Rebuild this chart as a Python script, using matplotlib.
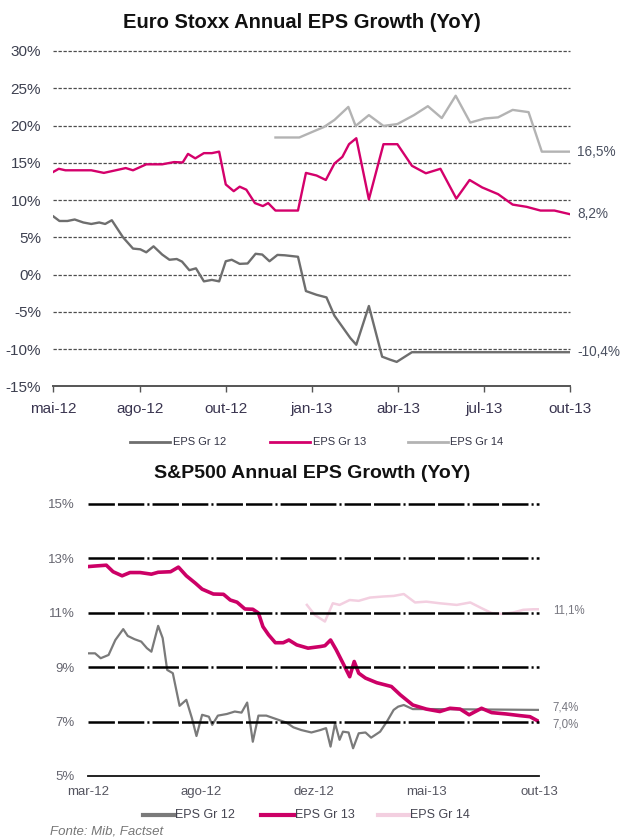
import matplotlib
matplotlib.use("Agg")
import matplotlib.pyplot as plt
from matplotlib import font_manager as fm
from matplotlib.lines import Line2D

# ---------------- data ----------------
# Euro Stoxx (x = week index from mai-12, 13 weeks per labelled tick)
es_ticks = ["mai-12", "ago-12", "out-12", "jan-13", "abr-13", "jul-13", "out-13"]
es_gr12_x = [0, 0.9, 2.1, 3.2, 4.5, 5.7, 6.9, 7.8, 8.8, 10.5, 12.0, 13.1, 14.0, 15.1, 16.4,
             17.5, 18.6, 19.4, 20.5, 21.5, 22.7, 23.9, 25.0, 26.0, 26.9, 28.1, 29.3, 30.5,
             31.5, 32.6, 33.8, 34.9, 36.9, 38.1, 39.7, 41.2, 42.4, 44.8, 45.7, 47.6, 49.6,
             50.8, 51.8, 54.1, 78]
es_gr12_y = [7.8, 7.2, 7.2, 7.4, 7.0, 6.8, 7.0, 6.8, 7.3, 5.0, 3.5, 3.4, 3.0, 3.8, 2.7,
             2.0, 2.1, 1.75, 0.6, 0.85, -0.9, -0.7, -0.9, 1.8, 2.0, 1.45, 1.5, 2.8,
             2.7, 1.8, 2.65, 2.6, 2.4, -2.2, -2.7, -3.05, -5.5, -8.5, -9.4, -4.2, -11.0,
             -11.4, -11.7, -10.4, -10.4]
es_gr13_x = [0, 0.8, 1.8, 5.7, 7.6, 9.9, 10.9, 12.0, 14.0, 16.4, 18.2, 19.5, 20.3, 21.4,
             22.7, 23.9, 25.0, 26.0, 27.2, 28.1, 29.1, 30.4, 31.6, 32.4, 33.5, 36.9, 38.1,
             39.7, 41.1, 42.4, 43.6, 44.6, 45.7, 47.6, 49.8, 51.9, 54.1, 56.2, 58.4, 60.8,
             62.8, 64.7, 67.1, 69.3, 71.4, 73.5, 75.6, 78]
es_gr13_y = [13.8, 14.2, 14.0, 14.0, 13.65, 14.1, 14.3, 14.0, 14.8, 14.8, 15.1, 15.05, 16.2,
             15.6, 16.3, 16.3, 16.5, 12.1, 11.2, 11.8, 11.4, 9.6, 9.2, 9.6, 8.6, 8.6, 13.65,
             13.3, 12.7, 14.9, 15.8, 17.5, 18.3, 10.1, 17.5, 17.5, 14.6, 13.6, 14.2, 10.2,
             12.7, 11.7, 10.8, 9.4, 9.1, 8.6, 8.6, 8.1]
es_gr14_x = [33.5, 37.1, 39.2, 40.8, 42.4, 44.5, 45.6, 47.6, 49.8, 51.9, 54.4, 56.5, 58.6,
             60.7, 62.9, 65.1, 67.1, 69.3, 71.7, 73.7, 78]
es_gr14_y = [18.4, 18.4, 19.2, 19.8, 20.75, 22.5, 19.95, 21.4, 19.95, 20.2, 21.4, 22.6, 21.0,
             24.0, 20.4, 20.95, 21.1, 22.1, 21.8, 16.5, 16.5]
es_end_labels = ["16,5%", "8,2%", "-10,4%"]
es_end_values = [16.5, 8.2, -10.4]

# S&P500 (x = trading-day index from mar-12, 100 days per labelled tick)
sp_ticks = ["mar-12", "ago-12", "dez-12", "mai-13", "out-13"]
sp_gr12_x = [0, 6, 11, 18, 24, 31, 35, 41, 47, 52, 56, 62, 66, 70, 75, 81, 87, 92, 96, 101,
             107, 110, 115, 123, 130, 136, 141, 146, 151, 158, 167, 176, 182, 189, 198, 206,
             211, 215, 219, 223, 226, 231, 235, 240, 246, 251, 259, 265, 271, 275, 280, 288,
             306, 400]
sp_gr12_y = [9.51, 9.51, 9.33, 9.45, 10.0, 10.40, 10.15, 10.03, 9.94, 9.70, 9.57, 10.52,
             10.07, 8.90, 8.78, 7.58, 7.80, 7.12, 6.47, 7.25, 7.18, 6.88, 7.22, 7.28, 7.37,
             7.33, 7.70, 6.26, 7.22, 7.22, 7.09, 6.96, 6.79, 6.69, 6.60, 6.69, 6.76, 6.08,
             6.94, 6.33, 6.63, 6.60, 6.02, 6.57, 6.60, 6.41, 6.63, 7.0, 7.43, 7.55, 7.61,
             7.46, 7.46, 7.43]
sp_gr13_x = [0, 6, 16, 22, 30, 37, 46, 56, 62, 73, 80, 87, 95, 101, 111, 120, 126, 132, 139,
             146, 151, 155, 160, 166, 173, 178, 185, 195, 206, 210, 215, 220, 226, 232, 236,
             240, 246, 256, 269, 277, 288, 300, 312, 321, 330, 338, 349, 358, 371, 383, 392,
             400]
sp_gr13_y = [12.70, 12.72, 12.75, 12.51, 12.36, 12.48, 12.48, 12.42, 12.49, 12.51, 12.68,
             12.36, 12.09, 11.87, 11.69, 11.68, 11.47, 11.39, 11.14, 11.13, 10.99, 10.49,
             10.19, 9.90, 9.90, 10.0, 9.82, 9.70, 9.76, 9.79, 10.0, 9.64, 9.15, 8.65, 9.21,
             8.78, 8.60, 8.43, 8.29, 7.98, 7.61, 7.46, 7.37, 7.49, 7.46, 7.25, 7.49, 7.33,
             7.28, 7.22, 7.18, 7.0]
sp_gr14_x = [194, 201, 210, 217, 223, 232, 240, 250, 262, 271, 280, 290, 300, 312, 327, 339,
             349, 358, 368, 377, 386, 395, 400]
sp_gr14_y = [11.29, 10.92, 10.68, 11.35, 11.29, 11.47, 11.44, 11.56, 11.60, 11.62, 11.69,
             11.38, 11.41, 11.35, 11.29, 11.38, 11.17, 10.99, 10.96, 11.01, 11.11, 11.13,
             11.13]
sp_end_labels = ["11,1%", "7,4%", "7,0%"]
sp_end_values = [11.1, 7.4, 7.0]

series_names = ["EPS Gr 12", "EPS Gr 13", "EPS Gr 14"]

# ---------------- style ----------------
names = {f.name for f in fm.fontManager.ttflist}
NARROW = "Liberation Sans Narrow" if "Liberation Sans Narrow" in names else "Liberation Sans"
SANS = "Liberation Sans" if "Liberation Sans" in names else "DejaVu Sans"
plt.rcParams["lines.scale_dashes"] = False

W, H = 621, 840
fig = plt.figure(figsize=(W / 100, H / 100), dpi=100)


def fx(px):
    return px / W


def fy(py):
    return 1 - py / H


# ---------------- top chart ----------------
c12, c13, c14 = "#6e6e6e", "#d4006b", "#b3b3b3"
ax1 = fig.add_axes([fx(53.5), fy(386.5), fx(570.3 - 53.5), (386.5 - 51) / H])
ax1.set_xlim(0, 78)
ax1.set_ylim(-15, 30)
for v in range(-10, 31, 5):
    ax1.axhline(v, color="#4d4d4d", lw=0.9, linestyle=(0, (2.4, 1.2)), clip_on=False, zorder=1)
ax1.plot(es_gr12_x, es_gr12_y, color=c12, lw=1.7, zorder=3, solid_joinstyle="round")
ax1.plot(es_gr13_x, es_gr13_y, color=c13, lw=1.7, zorder=3, solid_joinstyle="round")
ax1.plot(es_gr14_x, es_gr14_y, color=c14, lw=1.7, zorder=3, solid_joinstyle="round")
for s in ["top", "right", "left"]:
    ax1.spines[s].set_visible(False)
ax1.spines["bottom"].set_color("#555555")
ax1.spines["bottom"].set_linewidth(1.4)
ax1.set_xticks([13 * i for i in range(len(es_ticks))])
ax1.set_xticklabels(es_ticks, fontfamily=NARROW, fontsize=11, color="#3a3550")
ax1.tick_params(axis="x", length=4, width=1, color="#555555", pad=7)
ax1.set_yticks(list(range(-15, 31, 5)))
ax1.set_yticklabels([f"{v}%" for v in range(-15, 31, 5)], fontfamily=NARROW, fontsize=11,
                    color="#3d4050")
ax1.tick_params(axis="y", length=0, pad=9)
for lab, val in zip(es_end_labels, es_end_values):
    ax1.annotate(lab, xy=(78, val), xytext=(5, 0), textcoords="offset points", va="center",
                 ha="left", fontfamily=NARROW, fontsize=9.8, color="#4a5060",
                 annotation_clip=False)

fig.text(fx(302), fy(22), "Euro Stoxx Annual EPS Growth (YoY)", ha="center", va="center",
         fontfamily=SANS, fontweight="bold", fontsize=14.5, color="#111111")

# top legend
for (x0, x1, tx), col, name in zip([(130, 170, 173), (270, 310, 313), (408, 448, 450)],
                                   [c12, c13, c14], series_names):
    fig.add_artist(Line2D([fx(x0), fx(x1)], [fy(442), fy(442)], color=col, lw=2,
                          transform=fig.transFigure))
    fig.text(fx(tx), fy(442), name, ha="left", va="center", fontfamily=NARROW, fontsize=8,
             color="#333344")

# ---------------- bottom chart ----------------
b12, b13, b14 = "#7a7a7a", "#cc0066", "#f3cfe0"
ax2 = fig.add_axes([fx(88.3), fy(776), fx(539 - 88.3), (776 - 504) / H])
ax2.set_xlim(0, 400)
ax2.set_ylim(5, 15)
ax2.plot(sp_gr12_x, sp_gr12_y, color=b12, lw=1.6, zorder=2, solid_joinstyle="round")
ax2.plot(sp_gr13_x, sp_gr13_y, color=b13, lw=2.6, zorder=2, solid_joinstyle="round")
ax2.plot(sp_gr14_x, sp_gr14_y, color=b14, lw=1.8, zorder=2, solid_joinstyle="round")
for v in [7, 9, 11, 13, 15]:
    ax2.axhline(v, color="black", lw=1.8, linestyle=(0, (19, 2.2, 19, 2.2, 1.5, 2.2)),
                clip_on=False, zorder=3)
for s in ["top", "right", "left"]:
    ax2.spines[s].set_visible(False)
ax2.spines["bottom"].set_color("#111111")
ax2.spines["bottom"].set_linewidth(1.3)
ax2.set_xticks([100 * i for i in range(len(sp_ticks))])
ax2.set_xticklabels(sp_ticks, fontfamily=NARROW, fontsize=9.5, color="#555560")
ax2.tick_params(axis="x", length=0, pad=7)
ax2.set_yticks([5, 7, 9, 11, 13, 15])
ax2.set_yticklabels([f"{v}%" for v in [5, 7, 9, 11, 13, 15]], fontfamily=NARROW,
                    fontsize=9.5, color="#666670")
ax2.tick_params(axis="y", length=0, pad=10)
for lab, val, dy in zip(sp_end_labels, sp_end_values, [0, 1, -1]):
    ax2.annotate(lab, xy=(400, val), xytext=(10, dy * 2), textcoords="offset points",
                 va="center", ha="left", fontfamily=NARROW, fontsize=8.3, color="#777780",
                 annotation_clip=False)

fig.text(fx(312), fy(473), "S&P500 Annual EPS Growth (YoY)", ha="center", va="center",
         fontfamily=SANS, fontweight="bold", fontsize=14, color="#111111")

# bottom legend
for (x0, x1, tx), col, name in zip([(143, 175, 175), (261, 295, 295), (378, 410, 410)],
                                   [b12, b13, b14], series_names):
    fig.add_artist(Line2D([fx(x0), fx(x1)], [fy(815), fy(815)], color=col, lw=3,
                          transform=fig.transFigure))
    fig.text(fx(tx), fy(815), name, ha="left", va="center", fontfamily=NARROW, fontsize=9,
             color="#444450")

fig.text(fx(50), fy(832), "Fonte: Mib, Factset", ha="left", va="center", fontfamily=SANS,
         fontstyle="italic", fontsize=9.5, color="#777777")

fig.savefig("out.png", dpi=100)
